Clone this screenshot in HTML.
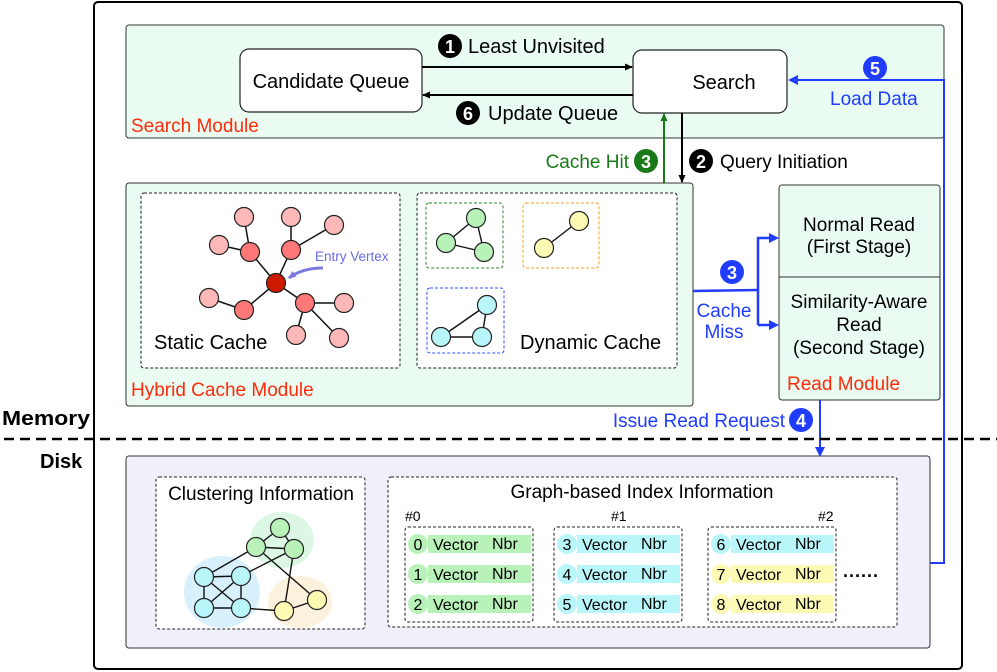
<!DOCTYPE html>
<html><head><meta charset="utf-8"><style>
html,body{margin:0;padding:0;background:#fff;}
svg{display:block;}
text{font-family:"Liberation Sans",Arial,sans-serif;}
</style></head><body>
<svg width="997" height="672" viewBox="0 0 997 672" xmlns="http://www.w3.org/2000/svg">
<defs>
<marker id="ak" markerWidth="8" markerHeight="8" refX="7" refY="4" orient="auto" markerUnits="userSpaceOnUse"><path d="M0,0.5 L8,4 L0,7.5 Z" fill="#000"/></marker>
<marker id="ag" markerWidth="8" markerHeight="8" refX="7" refY="4" orient="auto" markerUnits="userSpaceOnUse"><path d="M0,0.5 L8,4 L0,7.5 Z" fill="#1a7a1a"/></marker>
<marker id="ap" markerWidth="8" markerHeight="8" refX="7" refY="4" orient="auto" markerUnits="userSpaceOnUse"><path d="M0,0.5 L8,4 L0,7.5 Z" fill="#7a7ae0"/></marker>
</defs>

<rect x="94" y="2" width="868" height="667" rx="4" fill="#fff" stroke="#000" stroke-width="2"/>

<!-- Search module -->
<rect x="126" y="25" width="818" height="113" rx="3" fill="#eafcf1" stroke="#333" stroke-width="1"/>
<rect x="240" y="49" width="182" height="63" rx="9" fill="#fff" stroke="#222" stroke-width="1.2"/>
<text x="331" y="88" font-size="20" text-anchor="middle">Candidate Queue</text>
<rect x="633" y="50" width="154" height="63" rx="9" fill="#fff" stroke="#222" stroke-width="1.2"/>
<text x="724" y="89" font-size="20" text-anchor="middle">Search</text>
<line x1="422" y1="67" x2="632" y2="67" stroke="#000" stroke-width="2" marker-end="url(#ak)"/>
<line x1="633" y1="95" x2="423" y2="95" stroke="#000" stroke-width="2" marker-end="url(#ak)"/>
<circle cx="450" cy="46" r="12" fill="#000"/><text x="450" y="53" font-size="18" font-weight="bold" fill="#fff" text-anchor="middle">1</text>
<text x="468" y="53" font-size="20">Least Unvisited</text>
<circle cx="468" cy="113" r="12" fill="#000"/><text x="468" y="120" font-size="18" font-weight="bold" fill="#fff" text-anchor="middle">6</text>
<text x="488" y="120" font-size="20">Update Queue</text>
<text x="131" y="132" font-size="19" fill="#ff2a0a">Search Module</text>

<line x1="664" y1="183" x2="664" y2="114" stroke="#1a7a1a" stroke-width="2" marker-end="url(#ag)"/>
<line x1="682" y1="113" x2="682" y2="182" stroke="#000" stroke-width="2" marker-end="url(#ak)"/>
<text x="629" y="168" font-size="19" fill="#1a7a1a" text-anchor="end">Cache Hit</text>
<circle cx="646" cy="161" r="12" fill="#1a7a1a"/><text x="646" y="168" font-size="18" font-weight="bold" fill="#fff" text-anchor="middle">3</text>
<circle cx="701" cy="161" r="12" fill="#000"/><text x="701" y="168" font-size="18" font-weight="bold" fill="#fff" text-anchor="middle">2</text>
<text x="720" y="168" font-size="19">Query Initiation</text>

<!-- Hybrid cache module -->
<rect x="126" y="183" width="567" height="223" rx="3" fill="#eafcf1" stroke="#333" stroke-width="1"/>
<rect x="141" y="193" width="259" height="175" rx="3" fill="#fff" stroke="#222" stroke-dasharray="3,2"/>
<rect x="417" y="193" width="260" height="175" rx="3" fill="#fff" stroke="#222" stroke-dasharray="3,2"/>
<text x="131" y="396" font-size="19" fill="#ff2a0a">Hybrid Cache Module</text>

<g stroke="#111" stroke-width="1.5">
<line x1="276" y1="283" x2="250" y2="252"/><line x1="276" y1="283" x2="291" y2="250"/>
<line x1="276" y1="283" x2="244" y2="310"/><line x1="276" y1="283" x2="305" y2="303"/>
<line x1="250" y1="252" x2="244" y2="217"/><line x1="250" y1="252" x2="219" y2="245"/>
<line x1="291" y1="250" x2="291" y2="217"/><line x1="291" y1="250" x2="334" y2="225"/>
<line x1="244" y1="310" x2="209" y2="298"/>
<line x1="305" y1="303" x2="344" y2="303"/><line x1="305" y1="303" x2="296" y2="335"/><line x1="305" y1="303" x2="339" y2="338"/>
</g>
<g stroke="#222" stroke-width="1.2">
<g fill="#ffb8b8">
<circle cx="244" cy="217" r="9.5"/><circle cx="219" cy="245" r="9.5"/><circle cx="291" cy="217" r="9.5"/><circle cx="334" cy="225" r="9.5"/>
<circle cx="209" cy="298" r="9.5"/><circle cx="344" cy="303" r="9.5"/><circle cx="296" cy="335" r="9.5"/><circle cx="339" cy="338" r="9.5"/>
</g>
<g fill="#ff7878">
<circle cx="250" cy="252" r="9.5"/><circle cx="291" cy="250" r="9.5"/><circle cx="244" cy="310" r="9.5"/><circle cx="305" cy="303" r="9.5"/>
</g>
<circle cx="276" cy="283" r="9.5" fill="#cc1a00"/>
</g>
<path d="M323,268 Q302,268 289,278" fill="none" stroke="#7a7ae0" stroke-width="3" marker-end="url(#ap)"/>
<text x="315" y="261" font-size="13.5" fill="#6a6ae0">Entry Vertex</text>
<text x="154" y="349" font-size="20">Static Cache</text>

<rect x="426" y="203" width="77" height="65" rx="3" fill="none" stroke="#2a8a2a" stroke-dasharray="3,2"/>
<rect x="523" y="203" width="76" height="65" rx="3" fill="none" stroke="#f0a020" stroke-dasharray="3,2"/>
<rect x="427" y="288" width="77" height="65" rx="3" fill="none" stroke="#3050ff" stroke-dasharray="3,2"/>
<g stroke="#111" stroke-width="1.4">
<line x1="476" y1="218" x2="446" y2="243"/><line x1="476" y1="218" x2="484" y2="252"/><line x1="446" y1="243" x2="484" y2="252"/>
<line x1="579" y1="221" x2="544" y2="248"/>
<line x1="487" y1="305" x2="441" y2="337"/><line x1="487" y1="305" x2="482" y2="337"/><line x1="441" y1="337" x2="482" y2="337"/>
</g>
<g stroke="#222" stroke-width="1.2">
<g fill="#b9f2b9"><circle cx="476" cy="218" r="9.5"/><circle cx="446" cy="243" r="9.5"/><circle cx="484" cy="252" r="9.5"/></g>
<g fill="#fdfab4"><circle cx="579" cy="221" r="9.5"/><circle cx="544" cy="248" r="9.5"/></g>
<g fill="#b9f6fa"><circle cx="487" cy="305" r="9.5"/><circle cx="441" cy="337" r="9.5"/><circle cx="482" cy="337" r="9.5"/></g>
</g>
<text x="520" y="349" font-size="20">Dynamic Cache</text>

<!-- Read module -->
<rect x="779" y="185" width="161" height="215" rx="3" fill="#eafcf1" stroke="#333" stroke-width="1"/>
<line x1="779" y1="277" x2="940" y2="277" stroke="#333"/>
<text x="859" y="231" font-size="19" text-anchor="middle">Normal Read</text>
<text x="859" y="253" font-size="19" text-anchor="middle">(First Stage)</text>
<text x="859" y="308" font-size="19" text-anchor="middle">Similarity-Aware</text>
<text x="859" y="331" font-size="19" text-anchor="middle">Read</text>
<text x="859" y="354" font-size="19" text-anchor="middle">(Second Stage)</text>
<text x="787" y="390" font-size="19" fill="#ff2a0a">Read Module</text>

<g stroke="#1f3cff" stroke-width="2.5" fill="none">
<polyline points="693,291 758,290"/>
<polyline points="758,325 758,238 772,238"/>
<line x1="758" y1="325" x2="772" y2="325"/>
</g>
<path d="M779,238 L769,233 L769,243 Z" fill="#1f3cff"/>
<path d="M779,325 L769,320 L769,330 Z" fill="#1f3cff"/>
<circle cx="732" cy="272" r="12" fill="#1f3cff"/><text x="732" y="279" font-size="18" font-weight="bold" fill="#fff" text-anchor="middle">3</text>
<text x="724" y="317" font-size="19" fill="#1f3cff" text-anchor="middle">Cache</text>
<text x="724" y="338" font-size="19" fill="#1f3cff" text-anchor="middle">Miss</text>

<polyline points="930,563 944,563 944,80 792,80" fill="none" stroke="#1f3cff" stroke-width="2"/>
<path d="M788,80 L798,75 L798,85 Z" fill="#1f3cff"/>
<circle cx="875" cy="68" r="12" fill="#1f3cff"/><text x="875" y="75" font-size="18" font-weight="bold" fill="#fff" text-anchor="middle">5</text>
<text x="830" y="105" font-size="19" fill="#1f3cff">Load Data</text>

<line x1="820" y1="400" x2="820" y2="452" stroke="#1f3cff" stroke-width="2"/>
<path d="M820,457 L815,447 L825,447 Z" fill="#1f3cff"/>
<text x="785" y="427" font-size="19" fill="#1f3cff" text-anchor="end">Issue Read Request</text>
<circle cx="801" cy="420" r="12" fill="#1f3cff"/><text x="801" y="427" font-size="18" font-weight="bold" fill="#fff" text-anchor="middle">4</text>

<line x1="4" y1="439" x2="997" y2="439" stroke="#000" stroke-width="2.5" stroke-dasharray="10,6"/>
<text x="2" y="425" font-size="20" font-weight="bold" textLength="88" lengthAdjust="spacingAndGlyphs">Memory</text>
<text x="40" y="468" font-size="20" font-weight="bold">Disk</text>

<rect x="126" y="456" width="804" height="192" rx="3" fill="#f0f0fb" stroke="#333"/>
<rect x="156" y="477" width="209" height="152" rx="3" fill="#fff" stroke="#222" stroke-dasharray="3,2"/>
<text x="261" y="500" font-size="19" text-anchor="middle">Clustering Information</text>
<rect x="388" y="477" width="509" height="150" rx="3" fill="#fff" stroke="#222" stroke-dasharray="3,2"/>
<text x="642" y="498" font-size="19" text-anchor="middle">Graph-based Index Information</text>

<ellipse cx="282" cy="540" rx="32" ry="28" fill="#dcf7e4"/>
<ellipse cx="222" cy="592" rx="38" ry="36" fill="#d8f0fb"/>
<ellipse cx="300" cy="602" rx="32" ry="26" fill="#fcf1dc"/>
<g stroke="#111" stroke-width="1.4">
<line x1="280" y1="528" x2="256" y2="547"/><line x1="280" y1="528" x2="294" y2="549"/><line x1="256" y1="547" x2="294" y2="549"/>
<line x1="256" y1="547" x2="204" y2="577"/><line x1="294" y1="549" x2="241" y2="576"/>
<line x1="256" y1="547" x2="317" y2="600"/><line x1="294" y1="549" x2="284" y2="611"/>
<line x1="204" y1="577" x2="241" y2="576"/><line x1="204" y1="608" x2="241" y2="608"/>
<line x1="204" y1="577" x2="204" y2="608"/><line x1="241" y1="576" x2="241" y2="608"/>
<line x1="204" y1="577" x2="241" y2="608"/><line x1="241" y1="576" x2="204" y2="608"/>
<line x1="241" y1="608" x2="284" y2="611"/><line x1="284" y1="611" x2="317" y2="600"/>
</g>
<g stroke="#222" stroke-width="1.2">
<g fill="#b9f2b9"><circle cx="280" cy="528" r="9.5"/><circle cx="256" cy="547" r="9.5"/><circle cx="294" cy="549" r="9.5"/></g>
<g fill="#b9f6fa"><circle cx="204" cy="577" r="9.5"/><circle cx="241" cy="576" r="9.5"/><circle cx="204" cy="608" r="9.5"/><circle cx="241" cy="608" r="9.5"/></g>
<g fill="#fdfab4"><circle cx="284" cy="611" r="9.5"/><circle cx="317" cy="600" r="9.5"/></g>
</g>

<text x="405" y="521" font-size="14">#0</text>
<text x="611" y="521" font-size="14">#1</text>
<text x="818" y="521" font-size="14">#2</text>
<rect x="405" y="527" width="128" height="95" rx="3" fill="none" stroke="#222" stroke-dasharray="3,2"/>
<rect x="554" y="527" width="128" height="95" rx="3" fill="none" stroke="#222" stroke-dasharray="3,2"/>
<rect x="708" y="527" width="128" height="95" rx="3" fill="none" stroke="#222" stroke-dasharray="3,2"/>

<g font-size="16">
<circle cx="418" cy="544" r="10" fill="#b9f2b9"/><rect x="428" y="535" width="103" height="18" fill="#b9f2b9"/>
<text x="418" y="550" text-anchor="middle">0</text><text x="433" y="550">Vector</text><text x="492" y="549">Nbr</text>
<circle cx="418" cy="574" r="10" fill="#b9f2b9"/><rect x="428" y="565" width="103" height="18" fill="#b9f2b9"/>
<text x="418" y="580" text-anchor="middle">1</text><text x="433" y="580">Vector</text><text x="492" y="579">Nbr</text>
<circle cx="418" cy="604" r="10" fill="#b9f2b9"/><rect x="428" y="595" width="103" height="18" fill="#b9f2b9"/>
<text x="418" y="610" text-anchor="middle">2</text><text x="433" y="610">Vector</text><text x="492" y="609">Nbr</text>

<circle cx="567" cy="544" r="10" fill="#b9f6fa"/><rect x="577" y="535" width="103" height="18" fill="#b9f6fa"/>
<text x="567" y="550" text-anchor="middle">3</text><text x="582" y="550">Vector</text><text x="641" y="549">Nbr</text>
<circle cx="567" cy="574" r="10" fill="#b9f6fa"/><rect x="577" y="565" width="103" height="18" fill="#b9f6fa"/>
<text x="567" y="580" text-anchor="middle">4</text><text x="582" y="580">Vector</text><text x="641" y="579">Nbr</text>
<circle cx="567" cy="604" r="10" fill="#b9f6fa"/><rect x="577" y="595" width="103" height="18" fill="#b9f6fa"/>
<text x="567" y="610" text-anchor="middle">5</text><text x="582" y="610">Vector</text><text x="641" y="609">Nbr</text>

<circle cx="721" cy="544" r="10" fill="#b9f6fa"/><rect x="731" y="535" width="103" height="18" fill="#b9f6fa"/>
<text x="721" y="550" text-anchor="middle">6</text><text x="736" y="550">Vector</text><text x="795" y="549">Nbr</text>
<circle cx="721" cy="574" r="10" fill="#fdfab4"/><rect x="731" y="565" width="103" height="18" fill="#fdfab4"/>
<text x="721" y="580" text-anchor="middle">7</text><text x="736" y="580">Vector</text><text x="795" y="579">Nbr</text>
<circle cx="721" cy="604" r="10" fill="#fdfab4"/><rect x="731" y="595" width="103" height="18" fill="#fdfab4"/>
<text x="721" y="610" text-anchor="middle">8</text><text x="736" y="610">Vector</text><text x="795" y="609">Nbr</text>
</g>
<text x="843" y="577" font-size="18" font-weight="bold" letter-spacing="1">......</text>
</svg>
</body></html>
